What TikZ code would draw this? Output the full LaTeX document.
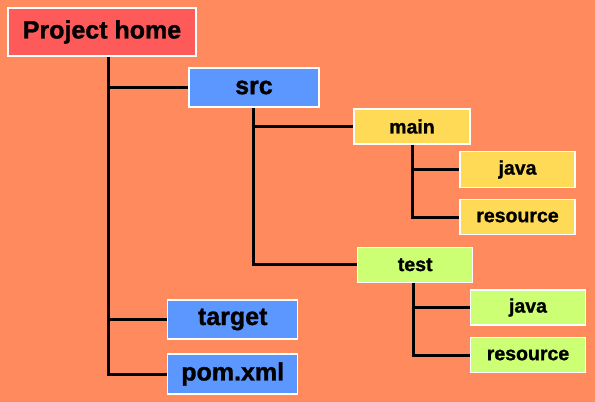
\documentclass[tikz,border=0pt]{standalone}
\usepackage{fontspec}
\setmainfont{Liberation Sans}
\newfontfamily\heavyfont[FakeBold=1.2]{Liberation Sans Bold}
\definecolor{bg}{HTML}{FF8A5E}
\definecolor{cred}{HTML}{FF5A5A}
\definecolor{cblue}{HTML}{5C96FF}
\definecolor{cyel}{HTML}{FFDA57}
\definecolor{cgrn}{HTML}{CCFF73}
\begin{document}
\begin{tikzpicture}[x=1pt,y=-1pt,
  box/.style={draw=white,line width=1.3pt,inner sep=0pt,text=black},
  big/.style={box,font=\heavyfont\fontsize{25}{28}\selectfont},
  small/.style={box,font=\heavyfont\fontsize{19.5}{22}\selectfont},
  conn/.style={line width=3pt,black}]
\fill[bg] (0,0) rectangle (595,402);
\useasboundingbox (0,0) rectangle (595,402);
\node[big,fill=cred,minimum width=188pt,minimum height=48pt] (home) at (102,32) {Project home};
\node[big,fill=cblue,minimum width=130pt,minimum height=39pt] (src) at (254,87.5) {src};
\node[big,fill=cblue,minimum width=130pt,minimum height=39pt] (target) at (232.7,319.5) {target};
\node[big,fill=cblue,minimum width=130pt,minimum height=40pt] (pom) at (232.7,374) {pom.xml};
\node[small,fill=cyel,minimum width=116pt,minimum height=35pt] (main) at (412,126.5) {main};
\node[small,fill=cyel,minimum width=115pt,minimum height=35.5pt] (mjava) at (517.5,169.5) {java};
\node[small,fill=cyel,minimum width=115pt,minimum height=35.5pt] (mres) at (517.5,217) {resource};
\node[small,fill=cgrn,minimum width=115pt,minimum height=35pt] (test) at (415.2,264.8) {test};
\node[small,fill=cgrn,minimum width=114.6pt,minimum height=35pt] (tjava) at (528,307.5) {java};
\node[small,fill=cgrn,minimum width=114.6pt,minimum height=35pt] (tres) at (528,355) {resource};
% connectors
\coordinate (hx) at (108.3,0);
\draw[conn] (home.south -| hx) -- (hx |- pom.west) -- (pom.west);
\draw[conn] (hx |- src.west) -- (src.west);
\draw[conn] (hx |- target.west) -- (target.west);
\coordinate (sx) at (253.3,0);
\draw[conn] (src.south -| sx) -- (sx |- test.west) -- (test.west);
\draw[conn] (sx |- main.west) -- (main.west);
\coordinate (mx) at (412.7,0);
\draw[conn] (main.south -| mx) -- (mx |- mres.west) -- (mres.west);
\draw[conn] (mx |- mjava.west) -- (mjava.west);
\coordinate (tx) at (413.3,0);
\draw[conn] (test.south -| tx) -- (tx |- tres.west) -- (tres.west);
\draw[conn] (tx |- tjava.west) -- (tjava.west);
\end{tikzpicture}
\end{document}
